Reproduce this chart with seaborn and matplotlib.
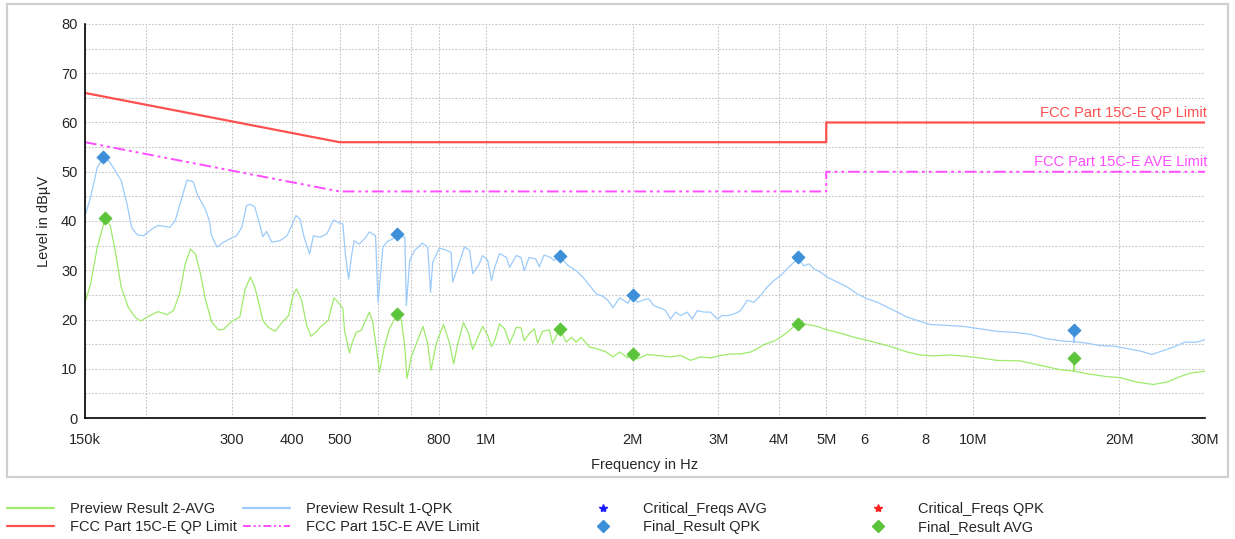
import numpy as np
import matplotlib
matplotlib.use("Agg")
import matplotlib.pyplot as plt
import seaborn as sns
from matplotlib.lines import Line2D
from matplotlib.patches import Rectangle
from matplotlib.ticker import FixedLocator, FixedFormatter, MultipleLocator, NullLocator

# Preview Result 1-QPK (frequency in MHz, level in dBuV)
qpk_freq = [0.150, 0.154, 0.159, 0.163, 0.168, 0.173, 0.178, 0.183, 0.187, 0.192,
            0.198, 0.206, 0.212, 0.219, 0.224, 0.230, 0.235, 0.243, 0.250, 0.256,
            0.265, 0.270, 0.273, 0.280, 0.289, 0.298, 0.307, 0.315, 0.322, 0.328,
            0.335, 0.341, 0.348, 0.354, 0.363, 0.377, 0.390, 0.399, 0.407, 0.415,
            0.423, 0.434, 0.442, 0.456, 0.471, 0.486, 0.497, 0.508, 0.514, 0.522,
            0.530, 0.536, 0.549, 0.563, 0.576, 0.593, 0.600, 0.614, 0.628, 0.644,
            0.656, 0.675, 0.681, 0.686, 0.697, 0.713, 0.740, 0.759, 0.769, 0.777,
            0.802, 0.828, 0.848, 0.854, 0.875, 0.903, 0.925, 0.939, 0.969, 0.984,
            1.008, 1.026, 1.042, 1.066, 1.101, 1.118, 1.154, 1.180, 1.198, 1.226,
            1.265, 1.287, 1.316, 1.357, 1.380, 1.416, 1.473, 1.532, 1.581, 1.632,
            1.685, 1.738, 1.780, 1.823, 1.881, 1.957, 2.000, 2.045, 2.110, 2.160,
            2.212, 2.301, 2.338, 2.394, 2.451, 2.510, 2.590, 2.653, 2.716, 2.804,
            2.892, 2.986, 3.057, 3.130, 3.230, 3.334, 3.441, 3.552, 3.665, 3.782,
            3.903, 4.028, 4.157, 4.257, 4.373, 4.498, 4.606, 4.716, 4.868, 5.024,
            5.268, 5.522, 5.789, 6.070, 6.366, 6.675, 7.000, 7.320, 7.800, 8.170,
            8.840, 9.570, 10.35, 11.20, 12.12, 13.12, 14.19, 15.36, 16.15, 17.15,
            18.26, 19.45, 20.72, 22.08, 23.33, 24.65, 25.84, 27.31, 28.86, 30.00]
qpk_level = [41.0, 44.8, 50.9, 52.5, 52.2, 50.2, 48.2, 43.4, 38.7, 37.2,
             37.0, 38.4, 39.1, 38.9, 38.7, 40.1, 43.4, 48.3, 48.0, 45.1,
             42.4, 40.1, 37.0, 34.7, 35.7, 36.4, 37.0, 38.7, 43.1, 43.4,
             42.8, 40.1, 36.8, 37.9, 35.7, 36.0, 37.0, 39.1, 41.1, 40.4,
             36.7, 33.3, 37.0, 36.7, 37.4, 40.2, 39.7, 39.4, 33.3, 28.2,
             33.3, 36.0, 35.3, 36.4, 37.8, 37.0, 23.5, 34.7, 35.9, 36.4,
             37.2, 36.8, 36.7, 22.8, 32.0, 34.0, 35.5, 34.7, 25.5, 31.6,
             34.5, 34.1, 33.6, 27.6, 30.6, 34.7, 34.1, 29.3, 31.3, 33.0,
             32.0, 27.9, 30.6, 33.4, 32.6, 30.6, 33.0, 32.6, 29.9, 32.6,
             32.3, 30.7, 33.1, 32.6, 32.0, 32.8, 31.0, 29.9, 28.6, 26.9,
             25.2, 24.7, 23.9, 22.4, 24.4, 23.3, 25.0, 23.5, 24.0, 24.2,
             22.8, 22.2, 21.8, 20.1, 21.5, 20.8, 21.5, 20.1, 21.8, 21.5,
             21.5, 20.1, 20.8, 20.8, 21.1, 21.8, 23.9, 23.5, 24.9, 26.6,
             27.9, 28.9, 30.3, 31.3, 32.3, 30.9, 31.3, 30.3, 29.6, 28.6,
             27.6, 26.6, 25.2, 24.2, 23.5, 22.5, 21.5, 20.5, 19.6, 19.0,
             18.8, 18.6, 18.1, 17.6, 17.4, 17.0, 16.1, 15.6, 15.5, 15.2,
             14.7, 14.6, 14.1, 13.6, 12.9, 13.7, 14.4, 15.4, 15.4, 15.9]

# Preview Result 2-AVG
avg_freq = [0.150, 0.154, 0.159, 0.165, 0.169, 0.173, 0.178, 0.184, 0.190, 0.195,
            0.204, 0.212, 0.221, 0.228, 0.235, 0.241, 0.247, 0.253, 0.259, 0.265,
            0.273, 0.282, 0.289, 0.300, 0.312, 0.320, 0.328, 0.335, 0.348, 0.357,
            0.369, 0.380, 0.393, 0.402, 0.408, 0.418, 0.428, 0.437, 0.449, 0.456,
            0.474, 0.487, 0.497, 0.508, 0.512, 0.524, 0.530, 0.541, 0.554, 0.567,
            0.576, 0.585, 0.595, 0.604, 0.618, 0.633, 0.657, 0.670, 0.681, 0.688,
            0.702, 0.719, 0.742, 0.759, 0.771, 0.790, 0.818, 0.842, 0.858, 0.875,
            0.899, 0.921, 0.939, 0.962, 0.984, 1.008, 1.026, 1.042, 1.066, 1.092,
            1.118, 1.154, 1.180, 1.198, 1.226, 1.257, 1.276, 1.306, 1.349, 1.370,
            1.416, 1.462, 1.497, 1.532, 1.568, 1.632, 1.685, 1.766, 1.823, 1.881,
            1.957, 2.000, 2.045, 2.145, 2.248, 2.394, 2.510, 2.632, 2.760, 2.892,
            3.033, 3.180, 3.334, 3.497, 3.609, 3.723, 3.903, 4.028, 4.157, 4.291,
            4.373, 4.570, 4.791, 5.024, 5.352, 5.700, 6.166, 6.675, 7.336, 7.800,
            8.300, 8.980, 9.720, 10.35, 11.20, 12.51, 13.75, 15.12, 16.15, 17.15,
            18.85, 20.07, 21.73, 23.51, 25.03, 26.67, 27.97, 30.00]
avg_level = [23.4, 27.2, 34.7, 40.5, 39.1, 34.0, 26.6, 22.5, 20.5, 19.7,
             20.8, 21.6, 21.0, 21.8, 25.5, 31.3, 34.3, 33.3, 29.3, 24.2,
             19.5, 17.9, 18.0, 19.6, 20.5, 26.2, 28.6, 26.6, 19.8, 18.4,
             17.6, 19.3, 20.8, 25.2, 26.2, 23.9, 18.8, 16.6, 17.6, 18.4,
             19.8, 24.4, 23.5, 22.2, 17.8, 13.2, 15.1, 17.4, 17.8, 20.1,
             21.5, 19.5, 14.4, 9.3, 14.4, 18.1, 21.1, 19.8, 14.4, 8.0,
             12.4, 15.1, 18.6, 15.1, 9.7, 15.1, 19.0, 15.1, 11.0, 15.1,
             19.4, 17.1, 13.9, 16.4, 18.6, 16.8, 14.5, 15.7, 19.1, 18.1,
             15.1, 18.4, 18.3, 15.7, 17.1, 18.1, 15.2, 17.6, 17.9, 15.1,
             18.1, 15.4, 16.4, 15.4, 16.4, 14.4, 14.1, 13.4, 12.4, 13.4,
             12.2, 13.0, 12.0, 12.9, 12.7, 12.4, 12.7, 11.7, 12.4, 12.2,
             12.7, 13.0, 13.0, 13.4, 14.1, 14.9, 15.6, 16.4, 17.4, 18.6,
             19.1, 19.0, 18.6, 17.9, 17.2, 16.4, 15.6, 14.7, 13.4, 12.8,
             12.6, 12.8, 12.5, 12.2, 11.7, 11.6, 10.7, 9.8, 9.5, 9.0,
             8.4, 8.2, 7.3, 6.8, 7.3, 8.4, 9.1, 9.5]

# limits
qp_freq = [0.15, 0.5, 5.0, 5.0, 30.0]
qp_level = [66, 56, 56, 60, 60]
ave_freq = [0.15, 0.5, 5.0, 5.0, 30.0]
ave_level = [56, 46, 46, 50, 50]

# final results
final_freq = [0.163, 0.656, 1.42, 2.0, 4.37, 16.15]
final_qpk = [52.9, 37.4, 32.8, 25.0, 32.6, 17.8]
final_avg_freq = [0.165, 0.656, 1.42, 2.0, 4.37, 16.15]
final_avg = [40.6, 21.1, 18.0, 13.0, 19.1, 12.2]

# critical freqs (none shown)
crit_avg_freq, crit_avg = [], []
crit_qpk_freq, crit_qpk = [], []

x_ticks = [0.15, 0.2, 0.3, 0.4, 0.5, 0.6, 0.7, 0.8, 1, 2, 3, 4, 5, 6, 7, 8, 10, 20, 30]
x_labels = ['150k', '', '300', '400', '500', '', '', '800', '1M', '2M', '3M', '4M',
            '5M', '6', '', '8', '10M', '20M', '30M']

c_qp = '#ff5050'
c_ave = '#ff4dff'
c_qpk = '#9ccbfa'
c_avg = '#9fea6c'
c_fq = '#3d8fd9'
c_fa = '#5cc43a'

sns.set_style("white")
plt.rcParams['font.family'] = ['Liberation Sans', 'DejaVu Sans']
plt.rcParams['font.size'] = 10

W, H = 1235, 539
fig = plt.figure(figsize=(W / 100, H / 100), dpi=100)
ax = fig.add_axes([85 / W, 1 - 418 / H, 1120 / W, 394 / H])

sns.lineplot(x=avg_freq, y=avg_level, ax=ax, color=c_avg, lw=0.9, estimator=None, sort=False)
sns.lineplot(x=qpk_freq, y=qpk_level, ax=ax, color=c_qpk, lw=0.9, estimator=None, sort=False)
sns.lineplot(x=qp_freq, y=qp_level, ax=ax, color=c_qp, lw=1.6, estimator=None, sort=False)
sns.lineplot(x=ave_freq, y=ave_level, ax=ax, color=c_ave, lw=1.4, estimator=None, sort=False,
             linestyle=(0, (6, 2, 1.5, 2, 1.5, 2)))

# stems from trace to result where they sit apart
for f, v in zip(final_freq, final_qpk):
    base = np.interp(np.log10(f), np.log10(qpk_freq), qpk_level)
    if v - base > 1:
        ax.plot([f, f], [base, v], color=c_qpk, lw=1.5)
for f, v in zip(final_avg_freq, final_avg):
    base = np.interp(np.log10(f), np.log10(avg_freq), avg_level)
    if v - base > 1:
        ax.plot([f, f], [base, v], color=c_avg, lw=1.5)

sns.scatterplot(x=final_freq, y=final_qpk, ax=ax, marker='D', s=45, color=c_fq, edgecolor=c_fq, zorder=5)
sns.scatterplot(x=final_avg_freq, y=final_avg, ax=ax, marker='D', s=45, color=c_fa, edgecolor=c_fa, zorder=5)
ax.plot(crit_avg_freq, crit_avg, '*', color='#1a1aff')
ax.plot(crit_qpk_freq, crit_qpk, '*', color='#ff2020')

ax.set_xscale('log')
ax.set_xlim(0.15, 30)
ax.set_ylim(0, 80)
ax.xaxis.set_major_locator(FixedLocator(x_ticks))
ax.xaxis.set_major_formatter(FixedFormatter(x_labels))
ax.xaxis.set_minor_locator(NullLocator())
ax.yaxis.set_major_locator(MultipleLocator(10))
ax.yaxis.set_minor_locator(MultipleLocator(5))

ax.grid(True, which='both', color='#c4c4c4', linestyle=(0, (1.5, 1.5)), lw=0.8)
for s in ['top', 'right']:
    ax.spines[s].set_visible(False)
for s in ['left', 'bottom']:
    ax.spines[s].set_color('black')
    ax.spines[s].set_linewidth(1.2)
ax.tick_params(which='both', direction='inout', color='black', width=1.1, labelsize=10.5)
ax.tick_params(which='major', length=7)
ax.tick_params(which='minor', length=5)
ax.tick_params(axis='x', pad=7)
ax.tick_params(axis='y', pad=2)

ax.set_xlabel('Frequency in Hz', fontsize=10.5, labelpad=8)
ax.set_ylabel('Level in dBµV', fontsize=10.5, labelpad=7)

ax.text(30.3, 60.5, 'FCC Part 15C-E QP Limit', color=c_qp, ha='right', va='bottom', fontsize=10.5)
ax.text(30.3, 50.5, 'FCC Part 15C-E AVE Limit', color=c_ave, ha='right', va='bottom', fontsize=10.5)

fig.patches.append(Rectangle((7 / W, 1 - 477 / H), 1221 / W, 473 / H, transform=fig.transFigure,
                             fill=False, edgecolor='#cfcfcf', lw=1.6))

# legend in four columns
h_avg = Line2D([], [], color=c_avg, lw=1.6)
h_qp = Line2D([], [], color=c_qp, lw=1.6)
h_qpk = Line2D([], [], color=c_qpk, lw=1.6)
h_ave = Line2D([], [], color=c_ave, lw=1.4, linestyle=(0, (4, 1.5, 1, 1.5, 1, 1.5)))
h_ca = Line2D([], [], color='#1a1aff', marker='*', ls='none', ms=6)
h_fq = Line2D([], [], color=c_fq, marker='D', ls='none', ms=6)
h_cq = Line2D([], [], color='#ff2020', marker='*', ls='none', ms=6)
h_fa = Line2D([], [], color=c_fa, marker='D', ls='none', ms=6)

cols = [(7, [h_avg, h_qp], ['Preview Result 2-AVG', 'FCC Part 15C-E QP Limit']),
        (243, [h_qpk, h_ave], ['Preview Result 1-QPK', 'FCC Part 15C-E AVE Limit']),
        (580, [h_ca, h_fq], ['Critical_Freqs AVG', 'Final_Result QPK']),
        (855, [h_cq, h_fa], ['Critical_Freqs QPK', 'Final_Result AVG'])]
for x0, hs, ls in cols:
    fig.legend(hs, ls, loc='upper left', bbox_to_anchor=(x0 / W, 1 - 502 / H), frameon=False,
               fontsize=10.5, handlelength=3.2, handletextpad=1.1, borderpad=0,
               borderaxespad=0, labelspacing=0.25)

fig.savefig('out.png', dpi=100)
